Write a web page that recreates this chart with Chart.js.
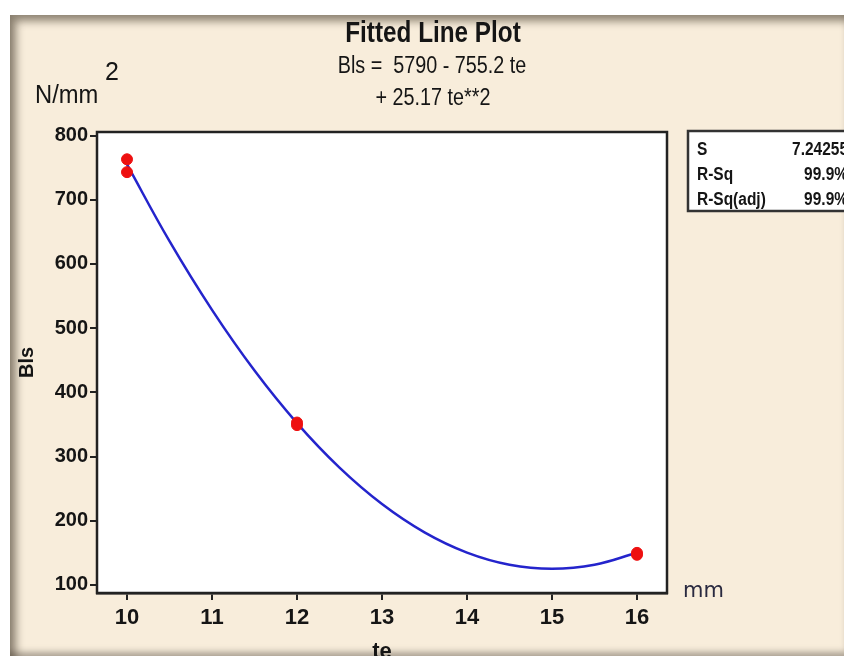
<!DOCTYPE html>
<html>
<head>
<meta charset="utf-8">
<script src="https://cdn.jsdelivr.net/npm/chart.js@4.4.1/dist/chart.umd.min.js"></script>
<style>
  html, body { margin: 0; padding: 0; background: #fff; }
  #frame {
    position: absolute; left: 10px; top: 15px; width: 834px; height: 641px;
    background: #f8eddb;
    box-shadow: inset 9px 9px 9px -3px rgba(70, 60, 45, 0.6), inset 0 -7px 6px -3px rgba(110, 100, 90, 0.55);
  }
  #wrap { position: absolute; left: 0; top: 0; width: 844px; height: 656px; }
</style>
</head>
<body>
<div id="frame"></div>
<div id="wrap"><canvas id="fit-chart" width="844" height="656"></canvas></div>
<script>
// observed runs
const teObs = [10, 10, 12, 12, 16, 16];
const blsObs = [763, 743, 353, 349, 150, 147];

// fitted quadratic
const teFit = [10, 10.5, 11, 11.5, 12, 12.5, 13, 13.5, 14, 14.5, 15, 15.5, 16];
const blsFit = [755.0, 635.4, 528.4, 433.9, 352.1, 282.8, 226.1, 182.0, 150.5, 131.6, 125.3, 131.5, 150.3];

const xTicks = [10, 11, 12, 13, 14, 15, 16];
const yTicks = [100, 200, 300, 400, 500, 600, 700, 800];

const titleText = "Fitted Line Plot";
const eqLines = ["Bls =  5790 - 755.2 te", "+ 25.17 te**2"];
const statNames = ["S", "R-Sq", "R-Sq(adj)"];
const statValues = ["7.24255", "99.9%", "99.9%"];

const INK = "#151515";
const SANS = "'Liberation Sans', sans-serif";

// squeeze text horizontally to get a condensed look
function narrowText(ctx, text, x, y, sx) {
  ctx.save();
  ctx.translate(x, y);
  ctx.scale(sx, 1);
  ctx.fillText(text, 0, 0);
  ctx.restore();
}

const plotBox = {
  id: "plotBox",
  beforeDatasetsDraw(chart) {
    const { ctx, chartArea: a } = chart;
    ctx.save();
    ctx.fillStyle = "#ffffff";
    ctx.fillRect(a.left, a.top, a.right - a.left, a.bottom - a.top);
    ctx.restore();
  },
  afterDraw(chart) {
    const { ctx, chartArea: a } = chart;
    ctx.save();
    ctx.strokeStyle = "#222";
    ctx.lineWidth = 2.5;
    ctx.strokeRect(a.left, a.top, a.right - a.left, a.bottom - a.top);

    ctx.fillStyle = INK;
    ctx.textBaseline = "middle";
    ctx.textAlign = "center";
    ctx.font = "bold 30px " + SANS;
    narrowText(ctx, titleText, 433, 34, 0.81);
    ctx.font = "23px " + SANS;
    narrowText(ctx, eqLines[0], 432, 67, 0.86);
    narrowText(ctx, eqLines[1], 433, 99, 0.86);

    // units
    ctx.textAlign = "left";
    ctx.font = "25px " + SANS;
    narrowText(ctx, "N/mm", 35, 96, 0.95);
    ctx.fillText("2", 105, 73);
    ctx.fillStyle = "#2a2a40";
    ctx.font = "21px 'DejaVu Sans', sans-serif";
    ctx.fillText("mm", 683, 592);

    // summary table
    const bx = 688, by = 131, bh = 80;
    ctx.fillStyle = "#ffffff";
    ctx.fillRect(bx, by, 844 - bx + 4, bh);
    ctx.strokeStyle = "#333";
    ctx.lineWidth = 2.5;
    ctx.strokeRect(bx, by, 844 - bx + 4, bh);
    ctx.fillStyle = INK;
    ctx.font = "bold 18px " + SANS;
    statNames.forEach((name, i) => {
      const y = 150 + i * 25;
      ctx.textAlign = "left";
      narrowText(ctx, name, 697, y, 0.86);
      ctx.textAlign = "right";
      narrowText(ctx, statValues[i], 848, y, 0.86);
    });
    ctx.restore();
  }
};

const axisCommon = {
  type: "linear",
  border: { color: "#222", width: 2.5 },
  grid: { drawOnChartArea: false, drawTicks: true, tickLength: 7, color: "#222", lineWidth: 2 },
};

new Chart(document.getElementById("fit-chart"), {
  type: "scatter",
  data: {
    datasets: [
      {
        data: teObs.map((x, i) => ({ x, y: blsObs[i] })),
        backgroundColor: "#ee1010",
        borderColor: "#ee1010",
        pointRadius: 5.5,
        order: 0,
      },
      {
        data: teFit.map((x, i) => ({ x, y: blsFit[i] })),
        showLine: true,
        borderColor: "#2424cc",
        borderWidth: 2.5,
        pointRadius: 0,
        tension: 0.4,
        order: 1,
      },
    ],
  },
  options: {
    responsive: false,
    animation: false,
    layout: { padding: { top: 132, right: 177, left: 0, bottom: 0 } },
    plugins: { legend: { display: false }, tooltip: { enabled: false } },
    scales: {
      x: {
        ...axisCommon,
        min: 9.647,
        max: 16.353,
        afterBuildTicks: (s) => { s.ticks = xTicks.map((v) => ({ value: v })); },
        afterFit: (s) => { s.height = 63; },
        ticks: { color: INK, padding: 5, maxRotation: 0, font: { family: SANS, size: 22, weight: "bold" } },
        title: { display: true, text: "te", color: INK, padding: { top: 0, bottom: -9 }, font: { family: SANS, size: 22, weight: "bold" } },
      },
      y: {
        ...axisCommon,
        min: 87.5,
        max: 805.5,
        afterBuildTicks: (s) => { s.ticks = yTicks.map((v) => ({ value: v })); },
        afterFit: (s) => { s.width = 97; },
        ticks: { color: INK, padding: 2, font: { family: SANS, size: 20, weight: "bold" } },
        title: { display: true, text: "Bls", color: INK, padding: { top: 15, bottom: 0 }, font: { family: SANS, size: 20, weight: "bold" } },
      },
    },
  },
  plugins: [plotBox],
});
</script>
</body>
</html>
